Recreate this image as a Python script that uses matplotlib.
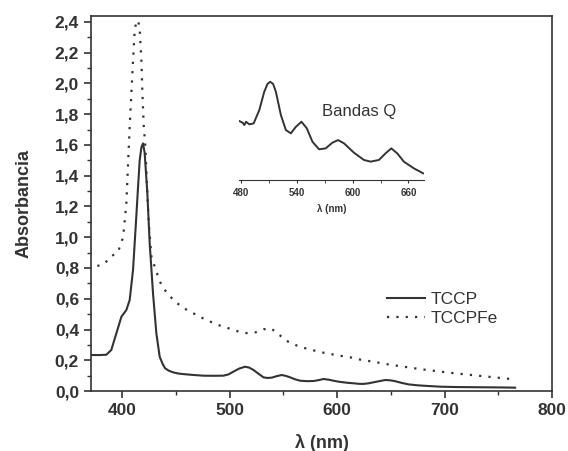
import numpy as np
import matplotlib.pyplot as plt
from matplotlib.ticker import MultipleLocator, FuncFormatter

plt.rcParams['font.family'] = ['Liberation Sans', 'DejaVu Sans']

# espectro TCCP (nm, absorbancia)
tccp_nm = [371.4, 380, 385.4, 390, 394.7, 399.4, 404, 407.1, 410.2, 412.7, 414.9,
           416.4, 418, 419.5, 421, 423.5, 425.7, 428.8, 431.9, 435, 437.5, 440,
           443.5, 447.7, 453, 460.2, 467, 475.7, 485, 494.3, 499, 503.6, 509,
           514.4, 518, 522.2, 527, 531.5, 535, 539.3, 544, 548.6, 552, 556.3,
           561, 565.6, 572, 578, 583, 587.3, 592, 596.6, 602, 609, 614, 619.9,
           624, 629.1, 637, 644.7, 649, 654, 660, 666.3, 675, 684.9, 697, 709.8,
           725, 740.8, 755, 765.6]
tccp_abs = [0.234, 0.234, 0.236, 0.267, 0.375, 0.483, 0.527, 0.592, 0.787, 1.07, 1.33,
            1.50, 1.585, 1.61, 1.55, 1.29, 0.96, 0.635, 0.375, 0.223, 0.18, 0.148,
            0.132, 0.121, 0.113, 0.108, 0.104, 0.0997, 0.099, 0.0997, 0.108, 0.126, 0.146,
            0.158, 0.153, 0.137, 0.112, 0.089, 0.085, 0.087, 0.097, 0.104, 0.099, 0.089,
            0.076, 0.067, 0.064, 0.065, 0.071, 0.078, 0.074, 0.067, 0.060, 0.054, 0.051, 0.047,
            0.046, 0.0498, 0.061, 0.0715, 0.07, 0.064, 0.053, 0.0433, 0.037, 0.0325, 0.028, 0.026,
            0.025, 0.024, 0.023, 0.0217]

# espectro TCCPFe
fe_nm = [377, 383.3, 389.5, 396.3, 401, 404, 405.6, 407.1, 408.7, 410.2, 411.8,
         413.3, 415, 416.4, 418, 418.9, 420.2, 421.5, 424.2, 425.1, 427.3, 431.9,
         436.9, 442.2, 448.4, 455.5, 462, 469.5, 476, 483.4, 490, 497.4, 504,
         510.7, 517.5, 524.4, 531.5, 538.3, 544.8, 551.6, 558, 565.6, 572, 579.5,
         586, 593.5, 603, 613.7, 619.9, 634, 647.7, 663, 678.8, 694, 709.8, 725,
         740.7, 753, 764.9]
fe_abs = [0.813, 0.826, 0.873, 0.906, 1.0, 1.22, 1.48, 1.72, 1.94, 2.15, 2.35,
          2.40, 2.41, 2.35, 2.15, 1.94, 1.72, 1.61, 1.18, 1.07, 0.873, 0.776,
          0.683, 0.635, 0.587, 0.548, 0.52, 0.494, 0.47, 0.447, 0.428, 0.412, 0.396,
          0.382, 0.375, 0.382, 0.401, 0.408, 0.375, 0.332, 0.308, 0.288, 0.275, 0.262,
          0.251, 0.241, 0.229, 0.217, 0.206, 0.19, 0.173, 0.157, 0.141, 0.128, 0.115, 0.104,
          0.093, 0.084, 0.076]

# bandas Q (inserto)
q_nm = [478.2, 481.8, 483.6, 485.4, 488.9, 493.6, 499.6, 505, 508.5, 511.4, 514.5,
        517.5, 522.9, 528.2, 533.6, 538.9, 545, 550.7, 556.8, 563.9, 571, 578.2,
        584.3, 590.7, 601.4, 612.1, 619.3, 628.2, 635.4, 641.5, 647.9, 655,
        665.7, 675.7]
q_abs = [0.0984, 0.096, 0.0927, 0.0974, 0.0937, 0.095, 0.114, 0.1406, 0.152, 0.155, 0.152,
         0.1406, 0.107, 0.0855, 0.0807, 0.090, 0.0974, 0.088, 0.0686, 0.0577, 0.059, 0.0672,
         0.071, 0.0663, 0.0528, 0.0423, 0.0399, 0.0423, 0.0519, 0.059, 0.0519, 0.0399,
         0.0303, 0.0231]

col = '#333333'
comma = FuncFormatter(lambda v, p: ('%.1f' % v).replace('.', ','))

fig = plt.figure(figsize=(5.68, 4.51), dpi=100)
ax = fig.add_axes([0.160, 0.133, 0.812, 0.832])

ax.plot(tccp_nm, tccp_abs, color=col, lw=1.5, label='TCCP')
ax.plot(fe_nm, fe_abs, color=col, lw=1.6, linestyle=(0, (1, 3.2)), label='TCCPFe')

ax.set_xlim(371, 800)
ax.set_ylim(0, 2.44)
ax.xaxis.set_major_locator(MultipleLocator(100))
ax.xaxis.set_minor_locator(MultipleLocator(50))
ax.yaxis.set_major_locator(MultipleLocator(0.2))
ax.yaxis.set_minor_locator(MultipleLocator(0.1))
ax.yaxis.set_major_formatter(comma)
ax.tick_params(which='major', direction='out', length=5, width=1.2, colors=col,
               labelsize=12.5)
ax.tick_params(which='minor', direction='out', length=3, width=1.0, colors=col)
for lab in ax.get_xticklabels() + ax.get_yticklabels():
    lab.set_fontweight('bold')
for s in ax.spines.values():
    s.set_color(col)
    s.set_linewidth(1.2)

ax.set_xlabel('λ (nm)', fontsize=13, fontweight='bold', color=col, labelpad=12)
ax.set_ylabel('Absorbancia', fontsize=13, fontweight='bold', color=col, labelpad=16)

leg = ax.legend(loc='center left', bbox_to_anchor=(0.642, 0.219), frameon=False,
                fontsize=12.5, handlelength=2.2, handletextpad=0.3, labelspacing=0.25,
                borderpad=0, borderaxespad=0)
for t in leg.get_texts():
    t.set_color(col)

# inserto bandas Q
ins = fig.add_axes([0.421, 0.601, 0.326, 0.233])
ins.plot(q_nm, q_abs, color=col, lw=1.4)
ins.set_xlim(478, 677)
ins.set_ylim(0.0135, 0.165)
ins.patch.set_alpha(0)
for side in ['top', 'right', 'left']:
    ins.spines[side].set_visible(False)
ins.spines['bottom'].set_color(col)
ins.set_yticks([])
ins.xaxis.set_major_locator(MultipleLocator(60))
ins.xaxis.set_minor_locator(MultipleLocator(30))
ins.tick_params(which='both', direction='out', length=2.5, colors=col, labelsize=7)
for lab in ins.get_xticklabels():
    lab.set_fontweight('bold')
ins.set_xlabel('λ (nm)', fontsize=7, fontweight='bold', color=col, labelpad=4)
ins.text(0.445, 0.648, 'Bandas Q', transform=ins.transAxes, fontsize=12, color=col,
         va='center')

fig.savefig('out.png', dpi=100)
